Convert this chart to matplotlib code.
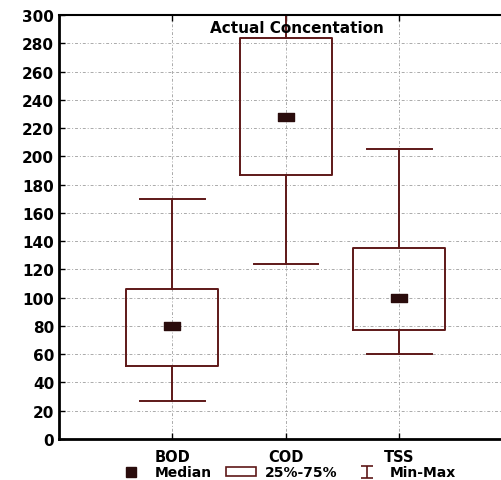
import matplotlib
matplotlib.use("Agg")
import matplotlib.pyplot as plt
from matplotlib.path import Path
from matplotlib.lines import Line2D
from matplotlib.patches import Rectangle

plt.rcParams['font.family'] = ['DejaVu Sans']
plt.rcParams['font.weight'] = 'bold'

# data
categories = ['BOD', 'COD', 'TSS']
mins = [27, 124, 60]
q1s = [52, 187, 77]
medians = [80, 228, 100]
q3s = [106, 284, 135]
maxs = [170, 330, 205]

edge = '#5e1818'
med_col = '#2a0c0c'

fig = plt.figure(figsize=(5.02, 4.81), dpi=100)
ax = fig.add_axes([0.1175, 0.0852, 0.904, 0.8815])

stats = []
for c, lo, a, m, b, hi in zip(categories, mins, q1s, medians, q3s, maxs):
    stats.append(dict(label=c, whislo=lo, q1=a, med=m, q3=b, whishi=hi, fliers=[]))

pos = list(range(1, len(categories) + 1))
ax.bxp(stats, positions=pos, widths=0.81, capwidths=0.57, showfliers=False,
       boxprops=dict(color=edge, linewidth=1.4),
       whiskerprops=dict(color=edge, linewidth=1.4),
       capprops=dict(color=edge, linewidth=1.4),
       medianprops=dict(linewidth=0))

rect = Path([(-1, -0.55), (1, -0.55), (1, 0.55), (-1, 0.55), (-1, -0.55)],
            [Path.MOVETO, Path.LINETO, Path.LINETO, Path.LINETO, Path.CLOSEPOLY])
ax.plot(pos, medians, ls='none', marker=rect, ms=11, color=med_col, zorder=5)

ax.set_xlim(0, 4)
ax.set_ylim(0, 300)
ax.set_yticks(range(0, 301, 20))
ax.set_xticks(pos)
ax.set_xticklabels(categories)
ax.tick_params(axis='both', direction='in', length=4, labelsize=11,
               top=True, right=False, width=1)
ax.tick_params(axis='x', pad=7, labelsize=10.5)
ax.grid(True, color='#aaaaaa', linestyle=(0, (3, 2, 1, 2)), linewidth=0.7)
ax.set_axisbelow(True)
for s in ['left', 'bottom']:
    ax.spines[s].set_linewidth(2)
ax.spines['top'].set_linewidth(1.5)
ax.spines['right'].set_visible(False)

ax.text(2.1, 291, 'Actual Concentation', ha='center', va='center', fontsize=11,
        fontweight='bold')

# legend
whisk = Path([(-1, 1), (1, 1), (0, 1), (0, -1), (-1, -1), (1, -1)],
             [Path.MOVETO, Path.LINETO, Path.MOVETO, Path.LINETO, Path.MOVETO, Path.LINETO])
h1 = Line2D([], [], ls='none', marker='s', ms=7, color=med_col)
h2 = Rectangle((0, 0), 1, 1, facecolor='white', edgecolor=edge, linewidth=1.2)
h3 = Line2D([], [], ls='none', marker=whisk, ms=8, mew=1.2, color=edge)
fig.legend([h1, h2, h3], ['Median', '25%-75%', 'Min-Max'], ncol=3,
           loc='lower center', bbox_to_anchor=(0.57, -0.016), frameon=False,
           fontsize=10, handlelength=2.2, handleheight=0.6, columnspacing=1.0,
           handletextpad=0.6, borderpad=0.1)

fig.savefig('out.png', dpi=100)
